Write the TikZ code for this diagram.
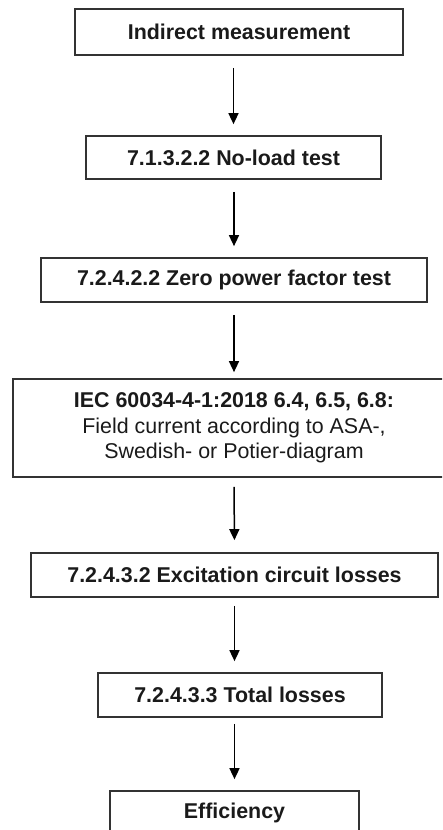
\documentclass[tikz,border=0pt]{standalone}
\usepackage{fontspec}
\setmainfont{Liberation Sans}
\usetikzlibrary{arrows.meta}
\definecolor{edge}{HTML}{333333}
\definecolor{ink}{HTML}{1A1A1A}
\begin{document}
\begin{tikzpicture}[x=1pt,y=-1pt,
  boxnode/.style={draw=edge,line width=1.7pt,inner sep=0pt,text=ink,
    font=\fontsize{21.4}{25.5}\selectfont\bfseries,align=center,anchor=center},
  flow/.style={draw=black,line width=1.5pt,-{Triangle[width=10pt,length=11pt]}}]
\useasboundingbox (0,0) rectangle (442,830);
\clip (0,0) rectangle (442,830);
\node[boxnode,minimum width=328pt,minimum height=46pt] (b1) at (239,32) {Indirect measurement};
\node[boxnode,minimum width=295pt,minimum height=43pt] (b2) at (233.5,157.5) {7.1.3.2.2 No-load test};
\node[boxnode,minimum width=386pt,minimum height=44pt] (b3) at (234,280) {7.2.4.2.2 Zero power factor test};
\node[boxnode,minimum width=442pt,minimum height=98pt] (b4) at (234,428) {IEC 60034-4-1:2018 6.4, 6.5, 6.8:\\ \mdseries Field current according to ASA-,\\ \mdseries Swedish- or Potier-diagram};
\node[boxnode,minimum width=407pt,minimum height=44pt] (b5) at (234.5,575) {7.2.4.3.2 Excitation circuit losses};
\node[boxnode,minimum width=284pt,minimum height=44pt] (b6) at (240,695) {7.2.4.3.3 Total losses};
\node[boxnode,minimum width=249pt,minimum height=44pt] (b7) at (234.5,813) {Efficiency};
\draw[flow,shorten <=12pt,shorten >=11pt] (b2.north |- b1.south) -- (b2.north);
\draw[flow,shorten <=12pt,shorten >=11pt] (b3.north |- b2.south) -- (b3.north);
\draw[flow,shorten <=12pt,shorten >=6pt] (b3.south) -- (b4.north);
\draw[flow,shorten <=9pt,shorten >=12pt] (b4.south) -- (b5.north);
\draw[flow,shorten <=8pt,shorten >=11pt] (b5.south) -- (b5.south |- b6.north);
\draw[flow,shorten <=6pt,shorten >=11pt] (b7.north |- b6.south) -- (b7.north);
\end{tikzpicture}
\end{document}
